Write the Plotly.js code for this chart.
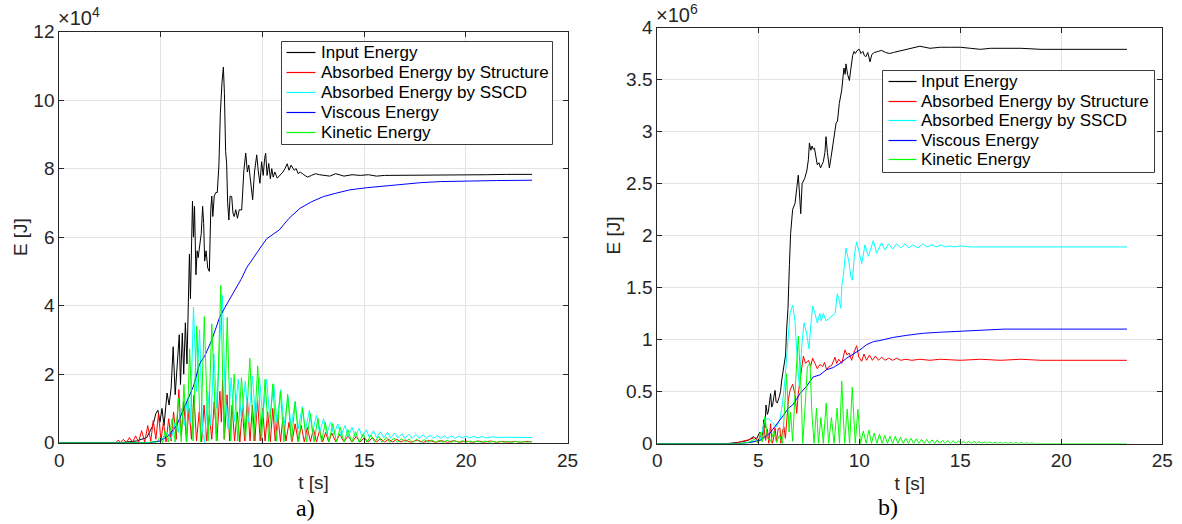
<!DOCTYPE html>
<html>
<head>
<meta charset="utf-8">
<script src="https://cdn.plot.ly/plotly-3.0.1.min.js"></script>
<style>
  html, body { margin: 0; padding: 0; background: #ffffff; }
  #chart { width: 1182px; height: 524px; }
</style>
</head>
<body>
<div id="chart"></div>
<script>
// ---------- a) energies, in units of 1e4 J ----------
const tInputA = [0,3.0,3.8,4.3,4.6,4.75,4.85,4.95,5.05,5.15,5.3,5.4,5.5,5.6,5.7,5.8,5.9,5.96,6.05,6.12,6.2,6.28,6.35,6.4,6.45,6.5,6.55,6.6,6.65,6.72,6.78,6.83,6.9,6.98,7.05,7.1,7.15,7.22,7.3,7.38,7.45,7.5,7.55,7.62,7.7,7.77,7.85,7.92,8.0,8.07,8.12,8.18,8.23,8.28,8.34,8.4,8.48,8.54,8.6,8.68,8.76,8.85,8.97,9.08,9.17,9.25,9.32,9.43,9.51,9.6,9.71,9.79,9.87,9.95,10.03,10.1,10.15,10.22,10.3,10.38,10.45,10.52,10.6,10.72,10.85,11.0,11.1,11.21,11.3,11.4,11.55,11.65,11.75,11.85,12.03,12.2,12.4,12.6,12.8,13.0,13.3,13.6,14.0,14.4,14.8,15.2,15.6,16.0,17.0,18.0,19.0,20.0,21.0,22.0,23.25];
const eInputA = [0,0,0.05,0.15,0.5,0.85,0.95,0.6,1.0,0.5,1.45,1.1,1.6,2.8,1.4,2.2,3.15,1.7,3.2,2.0,3.5,2.3,4.4,5.5,4.2,5.7,7.05,6.0,6.9,4.9,5.6,5.4,5.7,6.1,6.9,6.4,5.3,5.6,5.1,5.0,6.8,7.2,6.6,7.2,7.3,7.3,8.1,9.6,10.5,10.96,10.2,8.5,8.16,7.0,6.5,7.2,7.18,6.7,6.6,6.8,6.55,6.8,6.79,7.96,8.45,7.9,8.1,7.38,7.09,7.9,8.4,7.9,7.57,8.2,7.8,8.3,8.45,7.8,8.15,7.7,8.0,7.75,7.9,7.72,7.8,7.9,8.0,8.14,7.95,8.1,7.95,8.0,7.85,7.9,7.82,7.75,7.8,7.85,7.82,7.8,7.78,7.85,7.78,7.82,7.8,7.82,7.78,7.8,7.8,7.8,7.82,7.8,7.82,7.83,7.83];

const tStructA = [0,2.8,2.9,3.0,3.15,3.3,3.45,3.6,3.75,3.9,4.05,4.2,4.35,4.5,4.62,4.75,4.88,5.0,5.12,5.25,5.38,5.5,5.62,5.75,5.88,6.0,6.12,6.25,6.38,6.5,6.62,6.75,6.88,7.0,7.12,7.25,7.38,7.5,7.62,7.75,7.9,7.97,8.03,8.12,8.25,8.38,8.5,8.62,8.75,8.88,9.0,9.12,9.25,9.38,9.5,9.62,9.75,9.88,10.0,10.12,10.25,10.38,10.5,10.62,10.75,10.88,11.0,11.15,11.3,11.45,11.6,11.75,11.9,12.05,12.2,12.35,12.5,12.65,12.8,12.95,13.1,13.25,13.4,13.6,13.8,14.0,14.2,14.4,14.6,14.8,15.0,15.2,15.4,15.6,15.8,16.0,16.2,16.4,16.6,16.8,17.0,17.3,17.6,17.9,18.2,18.5,18.8,19.1,19.4,19.7,20.0,20.3,20.6,20.9,21.2,21.5,21.8,22.1,22.4,22.7,23.0,23.25];
const eStructA = [0,0,0.08,0,0.1,0,0.15,0.01,0.2,0.02,0.35,0.02,0.5,0.05,0.65,0.1,0.85,0.05,0.6,0.02,0.7,0.05,0.9,0.1,1.55,0.2,1.2,0.05,1.0,0.1,1.38,0.05,0.9,0.02,1.1,0.05,0.8,0.1,1.2,0.05,1.5,0.6,1.82,0.1,1.4,0.05,1.1,0.05,0.9,0.02,1.0,0.05,1.3,0.05,1.1,0.05,1.25,0.05,1.0,0.05,0.9,0.03,1.0,0.05,0.8,0.03,0.75,0.05,0.6,0.03,0.55,0.03,0.5,0.02,0.45,0.03,0.4,0.02,0.35,0.02,0.3,0.02,0.28,0.02,0.25,0.02,0.2,0.02,0.18,0.02,0.15,0.02,0.15,0.02,0.12,0.02,0.1,0.02,0.1,0.02,0.08,0.01,0.08,0.01,0.07,0.01,0.06,0.01,0.06,0.01,0.05,0.01,0.05,0.01,0.05,0.01,0.04,0.01,0.04,0.01,0.04,0.02];

const tSSCDA = [0,4.5,5.0,5.3,5.5,5.7,5.85,6.0,6.15,6.3,6.45,6.6,6.75,6.9,7.05,7.15,7.3,7.45,7.6,7.75,7.9,8.02,8.15,8.3,8.45,8.6,8.8,8.95,9.15,9.3,9.5,9.65,9.85,10.0,10.2,10.35,10.55,10.7,10.9,11.05,11.25,11.4,11.6,11.75,11.95,12.1,12.3,12.45,12.65,12.8,13.0,13.15,13.35,13.5,13.7,13.85,14.05,14.2,14.4,14.55,14.75,14.9,15.1,15.25,15.45,15.6,15.8,15.95,16.15,16.3,16.5,16.65,16.85,17.0,17.2,17.35,17.55,17.7,17.9,18.05,18.25,18.4,18.6,18.75,18.95,19.1,19.3,19.45,19.65,19.8,20.0,20.2,20.4,20.6,20.8,21.0,21.3,21.6,22.0,22.5,23.25];
const eSSCDA = [0,0,0.05,0.3,0.1,0.6,0.3,1.0,0.5,1.3,0.6,3.96,1.5,3.3,0.3,0.0,1.5,0.5,2.6,1.0,3.0,4.3,1.5,0.4,1.9,0.6,1.85,0.7,1.8,0.6,1.95,0.7,1.9,0.7,1.85,0.7,1.7,0.6,1.55,0.5,1.35,0.45,1.2,0.4,1.05,0.35,0.95,0.3,0.8,0.3,0.7,0.25,0.6,0.22,0.55,0.2,0.5,0.18,0.45,0.17,0.42,0.16,0.38,0.15,0.35,0.15,0.32,0.14,0.3,0.14,0.28,0.14,0.26,0.13,0.25,0.13,0.24,0.13,0.23,0.13,0.22,0.13,0.21,0.13,0.2,0.13,0.2,0.13,0.19,0.14,0.19,0.14,0.18,0.14,0.18,0.14,0.17,0.15,0.16,0.15,0.15];

const tViscousA = [0,4.4,4.95,5.36,5.77,6.26,6.6,6.9,7.17,7.5,7.9,8.15,8.48,8.97,9.21,9.46,9.7,9.91,10.2,10.48,10.82,11.3,11.84,12.4,12.98,13.6,14.3,15.1,15.93,16.75,17.8,18.75,20.0,21.5,23.25];
const eViscousA = [0,0,0.05,0.2,0.5,1.15,1.65,2.3,2.55,3.0,3.68,3.95,4.3,4.8,5.1,5.33,5.55,5.71,5.95,6.08,6.21,6.55,6.84,7.03,7.18,7.28,7.38,7.44,7.49,7.54,7.59,7.62,7.64,7.65,7.66];

const tKineticA = [0,4.3,4.6,4.75,4.95,5.08,5.2,5.36,5.55,5.7,5.86,6.0,6.13,6.27,6.41,6.58,6.76,6.95,7.13,7.32,7.5,7.72,7.94,8.1,8.26,8.43,8.6,8.78,8.96,9.16,9.37,9.56,9.76,9.94,10.12,10.3,10.5,10.68,10.87,11.05,11.23,11.42,11.6,11.78,11.97,12.16,12.35,12.53,12.72,12.9,13.08,13.26,13.45,13.63,13.82,14.0,14.2,14.38,14.57,14.75,14.95,15.13,15.33,15.51,15.7,15.88,16.08,16.26,16.45,16.63,16.83,17.01,17.2,17.38,17.58,17.76,17.95,18.13,18.33,18.51,18.7,18.88,19.08,19.26,19.45,19.63,19.83,20.01,20.2,20.38,20.58,20.76,20.95,21.13,21.33,21.51,21.7,21.88,22.08,22.26,22.45,22.63,22.83,23.01,23.2];
const eKineticA = [0,0,0.03,0,0.15,0,0.35,0.02,0.7,0.02,1.3,0.03,1.7,0.02,2.74,0.05,3.4,0.03,3.68,0.05,3.47,0.05,4.59,0.1,3.66,0.05,2.0,0.05,1.9,0.05,2.47,0.05,2.24,0.05,1.85,0.04,1.72,0.04,1.5,0.03,1.41,0.03,1.2,0.03,1.0,0.02,0.85,0.02,0.72,0.02,0.6,0.02,0.56,0.02,0.45,0.02,0.38,0.01,0.32,0.01,0.26,0.01,0.22,0.01,0.19,0.01,0.16,0.01,0.14,0.01,0.12,0.01,0.11,0.01,0.1,0.01,0.09,0.01,0.08,0.01,0.07,0.01,0.07,0.01,0.06,0.01,0.06,0.01,0.05,0.01,0.05,0.01,0.05,0.01,0.04,0.01,0.04,0.01,0.04,0.01,0.04,0.01,0.03,0.01,0.03];

// ---------- b) energies, in units of 1e6 J ----------
const tInputB = [0,3.5,4.0,4.5,4.76,4.9,5.08,5.2,5.28,5.33,5.38,5.45,5.5,5.61,5.66,5.71,5.77,5.83,5.88,5.94,6.04,6.1,6.16,6.27,6.35,6.4,6.47,6.54,6.6,6.7,6.77,6.82,6.9,6.98,7.04,7.1,7.17,7.23,7.3,7.4,7.48,7.53,7.6,7.66,7.72,7.78,7.84,7.92,8.0,8.08,8.15,8.22,8.3,8.35,8.42,8.52,8.6,8.68,8.75,8.85,8.92,9.01,9.13,9.24,9.3,9.34,9.42,9.51,9.58,9.67,9.74,9.8,9.9,10.0,10.08,10.18,10.25,10.33,10.42,10.53,10.62,10.75,10.94,11.1,11.3,11.5,11.69,11.9,12.18,12.4,12.68,13.0,13.5,14.0,14.5,15.0,15.5,16.0,16.5,17.0,18.0,19.0,20.0,21.0,22.0,23.25];
const eInputB = [0,0,0.01,0.03,0.066,0.04,0.11,0.08,0.23,0.15,0.37,0.28,0.31,0.48,0.35,0.37,0.45,0.51,0.4,0.39,0.45,0.5,0.61,0.77,0.85,1.09,1.3,1.72,2.02,2.25,2.28,2.31,2.45,2.58,2.4,2.21,2.5,2.52,2.55,2.62,2.73,2.89,2.82,2.86,2.83,2.84,2.76,2.68,2.7,2.65,2.68,2.71,2.8,2.95,2.8,2.65,2.75,2.85,2.98,3.08,3.1,3.27,3.4,3.61,3.55,3.65,3.55,3.49,3.6,3.73,3.77,3.75,3.78,3.79,3.75,3.77,3.73,3.72,3.76,3.67,3.74,3.76,3.77,3.78,3.76,3.75,3.76,3.77,3.78,3.79,3.81,3.82,3.8,3.81,3.81,3.81,3.8,3.79,3.8,3.8,3.8,3.79,3.79,3.79,3.79,3.79];

const tStructB = [0,3.8,4.2,4.6,4.84,5.0,5.1,5.2,5.28,5.36,5.45,5.52,5.61,5.68,5.74,5.83,5.9,5.98,6.07,6.12,6.2,6.27,6.34,6.4,6.49,6.57,6.7,6.82,6.9,6.98,7.1,7.23,7.34,7.48,7.59,7.69,7.81,7.92,8.05,8.19,8.28,8.38,8.5,8.63,8.8,8.88,8.98,9.13,9.29,9.4,9.5,9.62,9.74,9.87,9.98,10.12,10.23,10.36,10.5,10.65,10.8,10.95,11.1,11.28,11.45,11.65,11.85,12.05,12.3,12.6,13.0,13.5,14.0,15.0,16.0,17.0,18.0,19.0,20.0,21.0,22.0,23.25];
const eStructB = [0,0,0.02,0.04,0.06,0.02,0.08,0.02,0.16,0.03,0.14,0.0,0.19,0.0,0.03,0.15,0.02,0.14,0.15,0.0,0.12,0.16,0.05,0.23,0.42,0.51,0.57,0.47,0.29,0.48,0.64,0.84,0.77,0.8,0.74,0.82,0.77,0.72,0.76,0.74,0.78,0.71,0.74,0.75,0.83,0.77,0.81,0.77,0.9,0.85,0.87,0.8,0.88,0.94,0.83,0.79,0.86,0.8,0.85,0.8,0.84,0.8,0.83,0.8,0.82,0.8,0.82,0.8,0.81,0.8,0.81,0.8,0.81,0.8,0.81,0.8,0.81,0.8,0.8,0.8,0.8,0.8];

const tSSCDB = [0,4.0,4.5,5.09,5.33,5.5,5.7,5.91,6.07,6.2,6.32,6.44,6.57,6.7,6.81,6.93,7.03,7.15,7.26,7.39,7.51,7.61,7.69,7.81,7.92,8.05,8.12,8.22,8.35,8.48,8.62,8.8,8.91,9.0,9.08,9.14,9.22,9.34,9.48,9.59,9.66,9.76,9.87,10.0,10.12,10.28,10.45,10.69,10.86,11.1,11.27,11.45,11.65,11.85,12.05,12.26,12.45,12.65,12.9,13.14,13.35,13.6,13.8,14.05,14.25,14.5,14.7,15.0,15.5,16.0,17.0,18.0,20.0,23.25];
const eSSCDB = [0,0,0.01,0.03,0.23,0.24,0.2,0.16,0.23,0.39,0.61,0.93,1.25,1.33,1.19,0.8,0.55,0.93,1.16,1.06,0.91,1.16,1.32,1.25,1.16,1.25,1.18,1.25,1.18,1.2,1.22,1.25,1.44,1.38,1.3,1.53,1.63,1.88,1.75,1.6,1.57,1.82,1.94,1.82,1.73,1.91,1.8,1.95,1.83,1.93,1.86,1.92,1.87,1.92,1.88,1.92,1.88,1.91,1.88,1.92,1.89,1.91,1.89,1.91,1.89,1.9,1.89,1.9,1.89,1.89,1.89,1.89,1.89,1.89];

const tViscousB = [0,4.2,4.6,5.09,5.58,5.91,6.24,6.49,6.7,6.87,7.06,7.39,7.72,8.05,8.38,8.71,9.04,9.37,9.7,10.03,10.36,10.7,11.02,11.68,12.35,13.17,14.0,15.13,16.0,17.17,19.0,21.0,23.25];
const eViscousB = [0,0,0.01,0.03,0.1,0.18,0.27,0.34,0.37,0.42,0.48,0.55,0.64,0.66,0.71,0.73,0.77,0.82,0.86,0.9,0.95,0.98,0.99,1.02,1.04,1.06,1.07,1.08,1.09,1.1,1.1,1.1,1.1];

const tKineticB = [0,4.0,4.5,4.8,5.0,5.1,5.2,5.33,5.45,5.6,5.78,5.9,6.05,6.2,6.4,6.52,6.6,6.7,6.85,6.98,7.1,7.2,7.3,7.43,7.56,7.65,7.76,7.88,7.98,8.1,8.22,8.36,8.48,8.62,8.75,8.9,9.02,9.13,9.27,9.4,9.52,9.65,9.8,9.93,10.06,10.2,10.34,10.48,10.6,10.74,10.87,11.0,11.13,11.26,11.39,11.52,11.65,11.78,11.91,12.04,12.17,12.3,12.43,12.56,12.69,12.82,12.95,13.08,13.21,13.34,13.47,13.6,13.73,13.86,13.99,14.12,14.25,14.38,14.51,14.64,14.77,14.9,15.03,15.16,15.29,15.42,15.55,15.68,15.81,15.94,16.07,16.2,16.33,16.46,16.59,16.72,16.85,16.98,17.11,17.24,17.37,17.5,17.63,17.76,17.89,18.02,18.15,18.28,18.41,18.54,18.67,23.25];
const eKineticB = [0,0,0.01,0.04,0.0,0.11,0.02,0.26,0.05,0.02,0.12,0.01,0.08,0.0,0.67,0.11,0.3,0.02,0.6,1.03,0.6,0.0,0.3,0.74,0.77,0.3,0.0,0.34,0.0,0.25,0.0,0.39,0.0,0.25,0.0,0.34,0.0,0.6,0.0,0.33,0.0,0.54,0.0,0.33,0.0,0.12,0.0,0.13,0.0,0.1,0.0,0.09,0.0,0.08,0.0,0.07,0.0,0.07,0.0,0.06,0.0,0.05,0.0,0.05,0.0,0.045,0.0,0.04,0.0,0.04,0.0,0.035,0.0,0.035,0.0,0.03,0.0,0.03,0.0,0.028,0.0,0.025,0.0,0.022,0.0,0.02,0.0,0.02,0.0,0.018,0.0,0.016,0.0,0.015,0.0,0.013,0.0,0.012,0.0,0.01,0.0,0.01,0.0,0.008,0.0,0.007,0.0,0.006,0.0,0.005,0.0,0.0];

const seriesNames = ['Input Energy', 'Absorbed Energy by Structure', 'Absorbed Energy by SSCD', 'Viscous Energy', 'Kinetic Energy'];
const seriesColors = ['#000000', '#ff0000', '#00ffff', '#0000ff', '#00ff00'];
const xTickVals = [0, 5, 10, 15, 20, 25];

const panelA = [[tInputA, eInputA], [tStructA, eStructA], [tSSCDA, eSSCDA], [tViscousA, eViscousA], [tKineticA, eKineticA]];
const panelB = [[tInputB, eInputB], [tStructB, eStructB], [tSSCDB, eSSCDB], [tViscousB, eViscousB], [tKineticB, eKineticB]];

function panelTraces(panel, xa, ya) {
  return panel.map(([t, e], i) => ({
    type: 'scatter', mode: 'lines',
    x: t, y: e,
    xaxis: xa, yaxis: ya,
    name: seriesNames[i],
    showlegend: false,
    line: { color: seriesColors[i], width: 1 },
    hoverinfo: 'skip'
  }));
}

const data = panelTraces(panelA, 'x', 'y').concat(panelTraces(panelB, 'x2', 'y2'));

const W = 1182, H = 524;
const px = v => v / W;
const py = v => (H - v) / H;

const ink = '#262626';
const sans = 'Liberation Sans, Arial, Helvetica, sans-serif';
const tickFont = { family: sans, size: 19, color: ink };

function xAxis(domain, anchor) {
  return {
    domain: domain, anchor: anchor, range: [0, 25], tickvals: xTickVals,
    ticks: 'inside', ticklen: 5, tickwidth: 1, tickcolor: ink,
    showline: true, linecolor: ink, linewidth: 1, mirror: 'ticks',
    showgrid: true, gridcolor: '#e3e3e3', gridwidth: 1, zeroline: false,
    tickfont: tickFont,
    title: { text: 't [s]', font: tickFont, standoff: 6 }
  };
}
function yAxis(domain, anchor, range, dtick) {
  return {
    domain: domain, anchor: anchor, range: range, dtick: dtick, tick0: 0,
    ticks: 'inside', ticklen: 5, tickwidth: 1, tickcolor: ink,
    showline: true, linecolor: ink, linewidth: 1, mirror: 'ticks',
    showgrid: true, gridcolor: '#e3e3e3', gridwidth: 1, zeroline: false,
    tickfont: tickFont,
    title: { text: 'E [J]', font: tickFont, standoff: 0 }
  };
}

// Legend boxes: frame, short line sample and label per series
function legendParts(left, top, right, bottom, rowY, sampleX0, sampleX1, textX) {
  const shapes = [{
    type: 'rect', xref: 'paper', yref: 'paper', layer: 'above',
    x0: px(left), x1: px(right), y0: py(bottom), y1: py(top),
    line: { color: '#3c3c3c', width: 1 }, fillcolor: '#ffffff'
  }];
  const notes = [];
  seriesNames.forEach((name, i) => {
    const yc = rowY[i];
    shapes.push({
      type: 'line', xref: 'paper', yref: 'paper', layer: 'above',
      x0: px(sampleX0), x1: px(sampleX1), y0: py(yc), y1: py(yc),
      line: { color: seriesColors[i], width: 1.2 }
    });
    notes.push({
      xref: 'paper', yref: 'paper', x: px(textX), y: py(yc),
      xanchor: 'left', yanchor: 'middle', showarrow: false,
      text: name, font: { family: sans, size: 17, color: '#000000' }
    });
  });
  return { shapes, notes };
}

const legA = legendParts(281.5, 41.5, 552.5, 144.5, [52.5, 72.5, 92.5, 112.5, 132.5], 286.5, 315.5, 318.5);
const legB = legendParts(882.5, 70.5, 1154.5, 172.5, [81.5, 101.5, 120.5, 140.5, 159.5], 888.5, 916.5, 919);

const layout = {
  width: W, height: H,
  margin: { l: 0, r: 0, t: 0, b: 0 },
  paper_bgcolor: '#ffffff', plot_bgcolor: '#ffffff',
  showlegend: false,
  xaxis: xAxis([px(59.3), px(567.6)], 'y'),
  yaxis: yAxis([py(442.7), py(31.5)], 'x', [0, 12], 2),
  xaxis2: xAxis([px(657.3), px(1162.3)], 'y2'),
  yaxis2: yAxis([py(443.5), py(27.5)], 'x2', [0, 4], 0.5),
  shapes: legA.shapes.concat(legB.shapes),
  annotations: [
    { xref: 'paper', yref: 'paper', x: px(56), y: py(31), xanchor: 'left', yanchor: 'bottom',
      text: '×10<sup>4</sup>', showarrow: false, font: { family: sans, size: 20, color: ink } },
    { xref: 'paper', yref: 'paper', x: px(654), y: py(28), xanchor: 'left', yanchor: 'bottom',
      text: '×10<sup>6</sup>', showarrow: false, font: { family: sans, size: 20, color: ink } },
    { xref: 'paper', yref: 'paper', x: px(305), y: py(508), xanchor: 'center', yanchor: 'middle',
      text: 'a)', showarrow: false, font: { family: 'Liberation Serif, Times New Roman, serif', size: 24, color: '#000000' } },
    { xref: 'paper', yref: 'paper', x: px(888), y: py(507), xanchor: 'center', yanchor: 'middle',
      text: 'b)', showarrow: false, font: { family: 'Liberation Serif, Times New Roman, serif', size: 24, color: '#000000' } }
  ].concat(legA.notes, legB.notes)
};

Plotly.newPlot('chart', data, layout, { displayModeBar: false, staticPlot: true });
</script>
</body>
</html>
